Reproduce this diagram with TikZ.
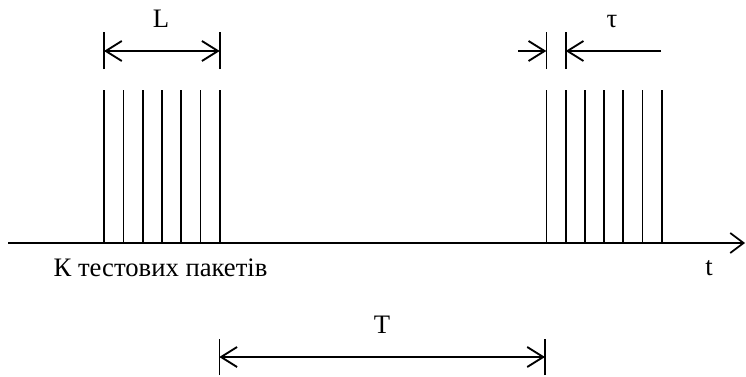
\documentclass[tikz,border=0pt]{standalone}
\usepackage{fontspec}
\setmainfont{Liberation Serif}
\usetikzlibrary{arrows.meta}
\tikzset{
  timeaxis/.style={line width=1.5pt, -{Straight Barb[length=10pt,width=15pt,line width=1.3pt]}},
  pulse/.style={line width=1.2pt},
  tick/.style={line width=1.2pt},
  span/.style={line width=1.4pt, {Straight Barb[length=12pt,width=15pt]}-{Straight Barb[length=12pt,width=15pt]}},
  pointer/.style={line width=1.4pt, -{Straight Barb[length=12pt,width=15pt]}},
  note/.style={font=\fontsize{20pt}{22pt}\selectfont, inner sep=1pt}
}
\begin{document}
\begin{tikzpicture}[x=0.75pt,y=0.75pt]
  \useasboundingbox (0,0) rectangle (746,376);
  \def\ax{133}   % time axis
  \def\top{286}  % pulse tops

  \coordinate (A0) at (8,\ax);
  \coordinate (A1) at (745,\ax);
  \draw[timeaxis] (A0) -- (A1);

  % first group of test packets
  \foreach \x in {104,123.3,142.7,161.7,181,200.3,219.7}
    \draw[pulse] (\x,\ax) -- (\x,\top);
  % last group
  \foreach \x in {546.3,565.7,584.7,604,623,642.3,661.7}
    \draw[pulse] (\x,\ax) -- (\x,\top);

  % L
  \draw[tick] (104,307) -- (104,344);
  \draw[tick] (219.7,307) -- (219.7,344);
  \coordinate (L0) at (104,325);
  \coordinate (L1) at (219.7,325);
  \draw[span] (L0) -- (L1);
  \node[note] (lbl-L) at (161,357) {L};

  % tau
  \draw[tick] (546.3,307) -- (546.3,344);
  \draw[tick] (565.7,307) -- (565.7,344);
  \coordinate (t0) at (518,325);
  \coordinate (t1) at (546.3,325);
  \coordinate (t2) at (661,325);
  \coordinate (t3) at (565.7,325);
  \draw[pointer] (t0) -- (t1);
  \draw[pointer] (t2) -- (t3);
  \node[note] (lbl-tau) at (612,354) {τ};

  % T
  \draw[tick] (219.3,1) -- (219.3,37);
  \draw[tick] (545,1) -- (545,37);
  \coordinate (T0) at (219.3,19);
  \coordinate (T1) at (545,19);
  \draw[span] (T0) -- (T1);
  \node[note] (lbl-T) at (382,51) {T};

  \node[note,anchor=west] (lbl-K) at (52,108) {К тестових пакетів};
  \node[note] (lbl-t) at (709,108) {t};
\end{tikzpicture}
\end{document}
